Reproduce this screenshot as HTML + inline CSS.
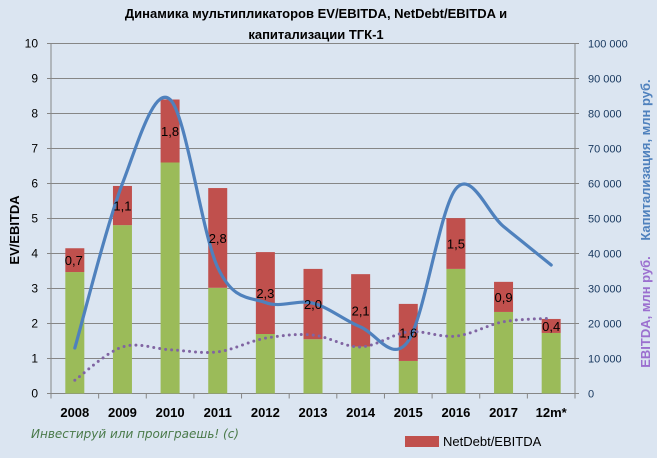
<!DOCTYPE html>
<html><head><meta charset="utf-8"><style>
html,body{margin:0;padding:0;background:#dbe5f1;}
svg{display:block;font-family:"Liberation Sans","DejaVu Sans",sans-serif;}
</style></head><body>
<svg id="s" width="657" height="458" viewBox="0 0 657 458" xmlns="http://www.w3.org/2000/svg">
<rect width="657" height="458" fill="#dbe5f1"/>
<text x="316" y="18" text-anchor="middle" font-size="13" font-weight="bold">Динамика мультипликаторов EV/EBITDA, NetDebt/EBITDA и</text>
<text x="316" y="39" text-anchor="middle" font-size="13" font-weight="bold">капитализации ТГК-1</text>
<g id="grid" stroke="#868686" stroke-width="1"></g>
<g id="bars"></g>
<g id="lines"></g>
<g id="labels" font-size="13" fill="#000"></g>
<text transform="translate(19,230) rotate(-90)" text-anchor="middle" font-size="13" font-weight="bold">EV/EBITDA</text>
<text transform="translate(650,160) rotate(-90)" text-anchor="middle" font-size="13" font-weight="bold" fill="#4f81bd">Капитализация, млн руб.</text>
<text transform="translate(650,312) rotate(-90)" text-anchor="middle" font-size="13" font-weight="bold" fill="#9b6fcf">EBITDA, млн руб.</text>
<text x="31" y="438" font-size="12" font-style="italic" fill="#4a7a4a" font-family="'DejaVu Sans',sans-serif">Инвестируй или проиграешь! (с)</text>
<rect x="405" y="436" width="34" height="11" fill="#c0504d"/>
<text x="443" y="446" font-size="13">NetDebt/EBITDA</text>
</svg>
<script>
var NS="http://www.w3.org/2000/svg";
function el(t,a,p,txt){var e=document.createElementNS(NS,t);for(var k in a)e.setAttribute(k,a[k]);if(txt!=null)e.textContent=txt;document.getElementById(p).appendChild(e);return e;}
var L=51,R=575,W=(R-L)/11;
function X(i){return L+W*(i+0.5);}
function Y(v){return 393.5-35*v;}
for(var v=0;v<=10;v++){
 el("line",{x1:L,x2:R,y1:Y(v),y2:Y(v)},"grid");
 el("line",{x1:L-4,x2:L,y1:Y(v),y2:Y(v)},"grid");
 el("line",{x1:R,x2:R+4,y1:Y(v),y2:Y(v)},"grid");
 el("text",{x:L-13,y:Y(v)+4,"text-anchor":"end","font-size":12},"labels",String(v));
 el("text",{x:588,y:Y(v)+4,"font-size":11,fill:"#17375e"},"labels",v==0?"0":(v*10)+" 000");
}
el("line",{x1:L,x2:L,y1:Y(10),y2:Y(0)+5},"grid");
el("line",{x1:R,x2:R,y1:Y(10),y2:Y(0)+5},"grid");
for(var i=0;i<=11;i++)el("line",{x1:L+W*i,x2:L+W*i,y1:Y(0),y2:Y(0)+5},"grid");
var cats=["2008","2009","2010","2011","2012","2013","2014","2015","2016","2017","12m*"];
var g=[3.47,4.81,6.6,3.02,1.70,1.55,1.34,0.93,3.56,2.33,1.73];
var t=[4.15,5.93,8.4,5.87,4.04,3.56,3.41,2.56,5.01,3.19,2.13];
var lab=["0,7","1,1","1,8","2,8","2,3","2,0","2,1","1,6","1,5","0,9","0,4"];
for(var i=0;i<11;i++){
 var x=X(i)-9.5;
 el("rect",{x:x,y:Y(g[i]),width:19,height:Y(0)-Y(g[i]),fill:"#9bbb59"},"bars");
 el("rect",{x:x,y:Y(t[i]),width:19,height:Y(g[i])-Y(t[i]),fill:"#c0504d"},"bars");
 el("text",{x:X(i)+(i==0?-1:0),y:(Y(g[i])+Y(t[i]))/2+5,"text-anchor":"middle","font-size":13},"labels",lab[i]);
 el("text",{x:X(i),y:417,"text-anchor":"middle","font-size":13,"font-weight":"bold"},"labels",cats[i]);
}
function smooth(vals){
 var p=vals.map(function(v,i){return [X(i),Y(v/10000)];});
 var d="M"+p[0][0]+","+p[0][1];
 for(var i=0;i<p.length-1;i++){
  var p0=p[i-1]||p[i],p1=p[i],p2=p[i+1],p3=p[i+2]||p[i+1];
  var c1=[p1[0]+(p2[0]-p0[0])/6,p1[1]+(p2[1]-p0[1])/6];
  var c2=[p2[0]-(p3[0]-p1[0])/6,p2[1]-(p3[1]-p1[1])/6];
  d+=" C"+c1+" "+c2+" "+p2;
 }
 return d;
}
var cap=[13000,60000,84000,36000,26000,25800,19000,15000,58500,47700,36700];
var eb=[3800,13300,12500,11900,15800,16700,13300,17600,16400,20500,21500];
el("path",{d:smooth(eb),fill:"none",stroke:"#8064a2","stroke-width":3,"stroke-dasharray":"0 6","stroke-linecap":"round"},"lines");
el("path",{d:smooth(cap),fill:"none",stroke:"#4f81bd","stroke-width":3.2,"stroke-linecap":"round"},"lines");
</script>
</body></html>
